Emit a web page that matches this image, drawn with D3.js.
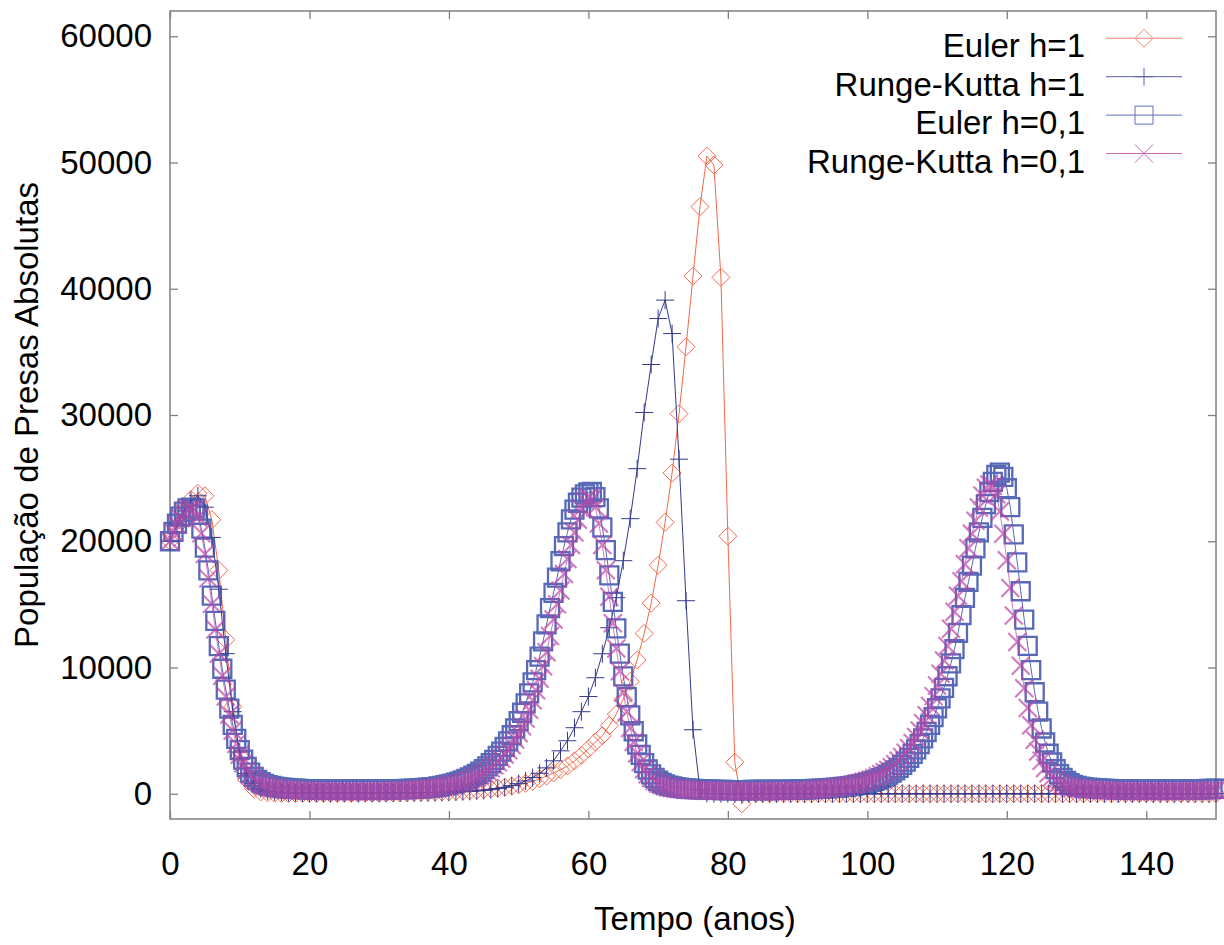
<!DOCTYPE html>
<html lang="pt">
<head>
    <meta charset="UTF-8">
    <title>População de Presas Absolutas</title>
    <script src="https://d3js.org/d3.v7.min.js"></script>
    <style>
        body {
            margin: 0;
            background: #fff;
        }
        svg {
            display: block;
            font-family: "Liberation Sans", Arial, sans-serif;
        }
        .tick text, .axis-label, .legend text {
            font-size: 33px;
            fill: #000;
        }
        .tick line {
            stroke: #808080;
        }
    </style>
</head>
<body>
    <svg width="1224" height="945"></svg>

    <script>
        // Tick labels
        const xTicks = [0, 20, 40, 60, 80, 100, 120, 140];
        const yTicks = [0, 10000, 20000, 30000, 40000, 50000, 60000];

        const seriesNames = ["Euler h=1", "Runge-Kutta h=1", "Euler h=0,1", "Runge-Kutta h=0,1"];

        // h=1 series: one value per year, t = 0..150
        const eulerH1 = [
            20000, 21200, 22400, 23300, 23800, 23600, 21700, 17700, 12200, 6900,
            3000, 1100, 400, 150, 70, 40, 30, 25, 22, 20,
            20, 20, 21, 22, 24, 26, 29, 32, 36, 41,
            47, 54, 62, 70, 79, 88, 98, 109, 120, 140,
            160, 185, 215, 250, 290, 335, 390, 450, 520, 610,
            710, 830, 980, 1180, 1400, 1650, 1900, 2200, 2600, 3050,
            3550, 4100, 4600, 5400, 6300, 7500, 8900, 10600, 12700, 15100,
            18100, 21500, 25400, 30100, 35400, 41000, 46500, 50500, 49800, 40900,
            20400, 2500, -800, 60, 0, 0, 0, 0, 0, 0,
            0, 0, 0, 0, 0, 0, 0, 0, 0, 0,
            0, 0, 0, 0, 0, 0, 0, 0, 0, 0,
            0, 0, 0, 0, 0, 0, 0, 0, 0, 0,
            0, 0, 0, 0, 0, 0, 0, 0, 0, 0,
            0, 0, 0, 0, 0, 0, 0, 0, 0, 0,
            0, 0, 0, 0, 0, 0, 0, 0, 0, 0,
            0
        ];

        const rkH1 = [
            20000, 21300, 22400, 23200, 23600, 22700, 20300, 16200, 11100, 6500,
            3300, 1600, 800, 400, 230, 155, 115, 92, 77, 68,
            62, 58, 55, 53, 52, 52, 52, 53, 54, 56,
            58, 61, 65, 69, 74, 80, 87, 95, 104, 115,
            128, 145, 165, 190, 225, 270, 330, 410, 510, 640,
            800, 1010, 1280, 1620, 2050, 2610, 3400, 4200, 5230, 6500,
            7700, 9190, 11090, 13150, 15530, 18460, 21790, 25750, 30200, 34000,
            37640, 39100, 36450, 26500, 15290, 5070, 300, 30, 10, 5,
            3, 2, 2, 1, 1, 1, 1, 1, 0, 0,
            0, 0, 0, 0, 0, 0, 0, 0, 0, 0,
            0, 0, 0, 0, 0, 0, 0, 0, 0, 0,
            0, 0, 0, 0, 0, 0, 0, 0, 0, 0,
            0, 0, 0, 0, 0, 0, 0, 0, 0, 0,
            0, 0, 0, 0, 0, 0, 0, 0, 0, 0,
            0, 0, 0, 0, 0, 0, 0, 0, 0, 0,
            0
        ];

        // h=0,1 series, every half year, t = 0..150
        const eulerH01 = [
            20000, 20750, 21400, 21950, 22350, 22600, 22660, 22600, 22100, 21000,
            19500, 17700, 15700, 13700, 11700, 9900, 8250, 6750, 5450, 4350,
            3450, 2700, 2120, 1680, 1340, 1100, 920, 790, 690, 620,
            565, 520, 485, 455, 430, 410, 395, 382, 371, 362,
            355, 349, 344, 340, 336, 333, 330, 328, 326, 325,
            324, 323, 322, 322, 322, 322, 323, 324, 326, 328,
            330, 333, 337, 341, 346, 352, 360, 368, 378, 390,
            403, 418, 435, 455, 478, 503, 531, 575, 623, 677,
            735, 801, 878, 964, 1061, 1168, 1290, 1428, 1580, 1753,
            1947, 2165, 2414, 2690, 2995, 3337, 3718, 4151, 4635, 5171,
            5758, 6417, 7159, 7952, 8817, 9785, 10856, 12072, 13410, 14708,
            15903, 17119, 18416, 19611, 20703, 21733, 22500, 23050, 23450, 23720,
            23870, 23900, 23500, 22600, 21100, 19300, 17300, 15200, 13100, 11100,
            9300, 7650, 6200, 4950, 3900, 3080, 2420, 1920, 1540, 1250,
            1030, 860, 740, 650, 580, 525, 480, 445, 415, 395,
            375, 360, 345, 335, 325, 317, 310, 305, 300, 297,
            295, 293, 292, 292, 292, 293, 295, 297, 300, 300,
            298, 298, 298, 300, 302, 305, 309, 313, 318, 324,
            332, 340, 350, 361, 374, 384, 394, 408, 423, 441,
            461, 485, 510, 539, 571, 606, 647, 693, 744, 801,
            866, 941, 1027, 1125, 1233, 1361, 1507, 1667, 1850, 2054,
            2285, 2548, 2839, 3161, 3522, 3924, 4381, 4892, 5457, 6076,
            6772, 7555, 8392, 9305, 10327, 11457, 12740, 14153, 15522, 16783,
            18066, 19436, 20696, 21849, 22936, 23900, 24700, 25250, 25440, 25100,
            24200, 22700, 20540, 18325, 16040, 13800, 11720, 9800, 8040, 6500,
            5170, 4060, 3170, 2475, 1945, 1560, 1250, 1010, 830, 710,
            615, 560, 520, 488, 462, 440, 422, 406, 393, 382,
            372, 364, 357, 351, 346, 341, 337, 334, 331, 329,
            327, 326, 325, 325, 325, 325, 326, 327, 329, 331,
            334, 337, 341, 345, 350, 356, 362, 370, 378, 387,
            397
        ];

        const rkH01 = [
            20000, 20700, 21300, 21850, 22250, 22500, 22600, 22510, 21880, 20630,
            18990, 17060, 15040, 13010, 11090, 9350, 7710, 6270, 5010, 3950,
            3080, 2410, 1880, 1490, 1205, 964, 790, 665, 569, 501,
            443, 400, 366, 337, 313, 294, 280, 265, 253, 241,
            231, 224, 217, 210, 204, 200, 195, 191, 188, 185,
            183, 182, 182, 182, 182, 183, 185, 187, 190, 194,
            198, 204, 210, 218, 226, 236, 247, 260, 274, 290,
            308, 328, 350, 375, 402, 432, 465, 500, 540, 585,
            635, 690, 750, 820, 900, 990, 1090, 1200, 1330, 1470,
            1630, 1810, 2010, 2240, 2500, 2780, 3100, 3450, 3850, 4300,
            4800, 5350, 5950, 6650, 7400, 8200, 9100, 10100, 11200, 12500,
            13800, 15000, 16100, 17400, 18600, 19700, 20700, 21700, 22600, 23200,
            23450, 23350, 22700, 21400, 19700, 17700, 15600, 13500, 11500, 9700,
            8000, 6500, 5200, 4100, 3200, 2500, 1950, 1550, 1250, 1000,
            820, 690, 590, 520, 460, 415, 380, 350, 325, 305,
            290, 275, 262, 250, 240, 232, 225, 218, 212, 207,
            202, 198, 195, 193, 191, 190, 190, 190, 190, 190,
            191, 193, 195, 199, 203, 207, 213, 219, 228, 236,
            247, 258, 272, 286, 303, 322, 343, 366, 392, 420,
            451, 486, 523, 564, 611, 664, 721, 784, 857, 937,
            1035, 1139, 1254, 1390, 1536, 1703, 1891, 2100, 2341, 2613,
            2905, 3240, 3605, 4023, 4494, 5016, 5591, 6218, 6949, 7733,
            8569, 9510, 10555, 11704, 13063, 14421, 15675, 16825, 18183, 19437,
            20587, 21632, 22677, 23620, 24245, 24500, 24400, 23720, 22360, 20590,
            18500, 16300, 14110, 12020, 10140, 8360, 6790, 5430, 4280, 3340,
            2610, 2040, 1620, 1310, 1045, 857, 721, 617, 543, 481,
            434, 397, 366, 340, 319, 303, 287, 274, 261, 251,
            242, 235, 228, 222, 216, 211, 207, 204, 201, 199,
            197, 194, 193, 192, 192, 192, 193, 195, 197, 199,
            202, 206, 211, 216, 223, 230, 238, 247, 258, 270,
            283
        ];

        const width = 1224;
        const height = 945;
        const margin = { top: 11, right: 8, bottom: 126, left: 170 };

        const svg = d3.select("svg")
            .attr("width", width)
            .attr("height", height);

        const x = d3.scaleLinear()
            .domain([0, 150])
            .range([margin.left, width - margin.right]);

        const y = d3.scaleLinear()
            .domain([-2000, 62000])
            .range([height - margin.bottom, margin.top]);

        // the h=0,1 markers are much denser in the original, so they get heavier strokes here
        const series = [
            { name: seriesNames[0], values: eulerH1, step: 1, color: "#f26a4b", marker: "diamond", opacity: 1, sw: 1 },
            { name: seriesNames[1], values: rkH1, step: 1, color: "#343a8c", marker: "plus", opacity: 1, sw: 1 },
            { name: seriesNames[2], values: eulerH01, step: 0.5, color: "#3a4fab", marker: "square", opacity: 0.85, sw: 2.3 },
            { name: seriesNames[3], values: rkH01, step: 0.5, color: "#bb45a8", marker: "cross", opacity: 0.7, sw: 2.1 }
        ];

        const ms = 9; // half marker size

        function markerPath(type) {
            if (type === "diamond") return `M0,${-ms}L${ms},0L0,${ms}L${-ms},0Z`;
            if (type === "square") return `M${-ms},${-ms}h${2 * ms}v${2 * ms}h${-2 * ms}Z`;
            if (type === "plus") return `M${-ms},0H${ms}M0,${-ms}V${ms}`;
            return `M${-ms},${-ms}L${ms},${ms}M${-ms},${ms}L${ms},${-ms}`;
        }

        // Axes: ticks point inward, mirrored on top and right
        svg.append("g")
            .attr("transform", `translate(0, ${height - margin.bottom})`)
            .call(d3.axisBottom(x).tickValues(xTicks).tickSizeInner(-8).tickSizeOuter(0).tickPadding(33));

        svg.append("g")
            .attr("transform", `translate(0, ${margin.top})`)
            .call(d3.axisTop(x).tickValues(xTicks).tickSizeInner(-8).tickSizeOuter(0).tickFormat(""));

        svg.append("g")
            .attr("transform", `translate(${margin.left}, 0)`)
            .call(d3.axisLeft(y).tickValues(yTicks).tickSizeInner(-8).tickSizeOuter(0).tickPadding(18).tickFormat(d3.format("d")));

        svg.append("g")
            .attr("transform", `translate(${width - margin.right}, 0)`)
            .call(d3.axisRight(y).tickValues(yTicks).tickSizeInner(-8).tickSizeOuter(0).tickFormat(""));

        svg.selectAll(".domain").remove();
        svg.selectAll("g").attr("font-family", null).attr("font-size", null);
        svg.selectAll(".tick line").attr("stroke-width", 1.3);

        // Frame
        svg.append("rect")
            .attr("x", margin.left)
            .attr("y", margin.top)
            .attr("width", width - margin.left - margin.right)
            .attr("height", height - margin.top - margin.bottom)
            .attr("fill", "none")
            .attr("stroke", "#808080")
            .attr("stroke-width", 1.5);

        // Series: line then markers
        const line = d3.line()
            .x(d => x(d.t))
            .y(d => y(d.v));

        series.forEach(s => {
            const pts = s.values.map((v, i) => ({ t: i * s.step, v: v }));
            const g = svg.append("g").attr("opacity", s.opacity);

            g.append("path")
                .datum(pts)
                .attr("d", line)
                .attr("fill", "none")
                .attr("stroke", s.color)
                .attr("stroke-width", 1);

            g.selectAll("path.pt")
                .data(pts)
                .join("path")
                .attr("class", "pt")
                .attr("transform", d => `translate(${x(d.t)},${y(d.v)})`)
                .attr("d", markerPath(s.marker))
                .attr("fill", "none")
                .attr("stroke", s.color)
                .attr("stroke-width", s.sw);
        });

        // Legend
        const legend = svg.append("g").attr("class", "legend");
        series.forEach((s, i) => {
            const ly = 38.3 + i * 38.4;
            legend.append("text")
                .attr("x", 1085)
                .attr("y", ly + 19)
                .attr("text-anchor", "end")
                .text(s.name);
            const key = legend.append("g").attr("opacity", 0.8);
            key.append("line")
                .attr("x1", 1106)
                .attr("x2", 1182)
                .attr("y1", ly)
                .attr("y2", ly)
                .attr("stroke", s.color)
                .attr("stroke-width", 1);
            key.append("path")
                .attr("transform", `translate(1144,${ly})`)
                .attr("d", markerPath(s.marker))
                .attr("fill", "none")
                .attr("stroke", s.color)
                .attr("stroke-width", 1);
        });

        // Axis titles
        svg.append("text")
            .attr("class", "axis-label")
            .attr("x", 695)
            .attr("y", 930)
            .attr("text-anchor", "middle")
            .text("Tempo (anos)");

        svg.append("text")
            .attr("class", "axis-label")
            .attr("transform", "translate(38, 415) rotate(-90)")
            .attr("text-anchor", "middle")
            .text("População de Presas Absolutas");
    </script>
</body>
</html>
